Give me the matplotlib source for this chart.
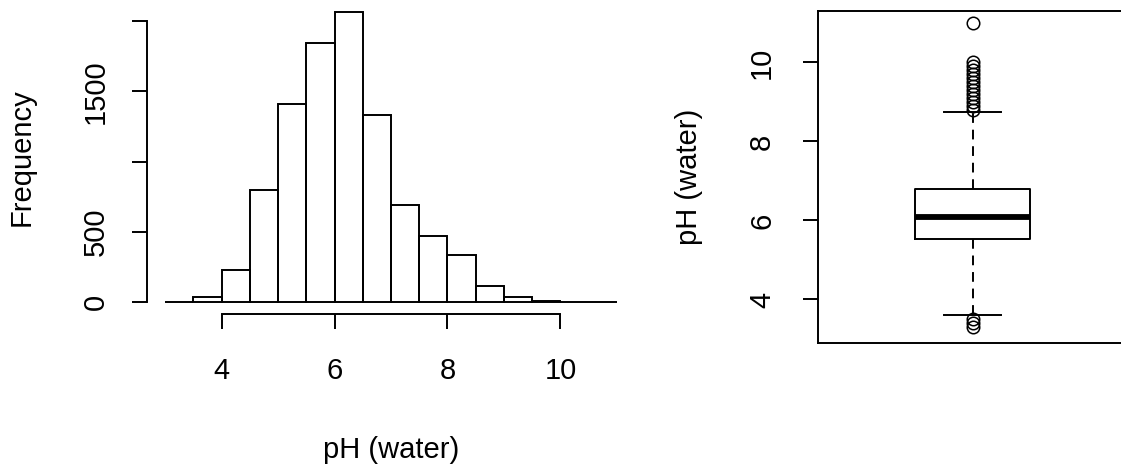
import matplotlib
matplotlib.use("Agg")
import matplotlib.pyplot as plt
import numpy as np

plt.rcParams['font.family'] = ['Liberation Sans', 'DejaVu Sans']

# histogram of pH (water), bins of 0.5 from 3 to 11
bin_edges = [3.0, 3.5, 4.0, 4.5, 5.0, 5.5, 6.0, 6.5, 7.0, 7.5, 8.0, 8.5, 9.0, 9.5, 10.0, 10.5, 11.0]
counts = [3, 40, 230, 797, 1413, 1847, 2063, 1335, 690, 472, 337, 119, 40, 12, 0, 1]
hist_xticks = [4, 6, 8, 10]
hist_yticks = [0, 500, 1000, 1500, 2000]
hist_ylabels = ['0', '500', '', '1500', '']

# boxplot summary of pH (water)
box_q1 = 5.52
box_med = 6.1
box_q3 = 6.8
box_whislo = 3.6
box_whishi = 8.75
fliers_low = [3.3, 3.4, 3.5]
fliers_high = [8.8, 8.9, 9.0, 9.1, 9.2, 9.3, 9.4, 9.5, 9.6, 9.7, 9.8, 9.9, 10.0, 11.0]
box_yticks = [4, 6, 8, 10]

W, H = 1121, 465
fig = plt.figure(figsize=(W / 100, H / 100), dpi=100)
fs = 21
lw = 1.4
tick_len = 11

# left panel: histogram
ax1 = fig.add_axes([147 / W, (H - 314) / H, 488 / W, 313.5 / H])
ax1.bar(bin_edges[:-1], counts, width=np.diff(bin_edges), align='edge',
        fill=False, edgecolor='black', linewidth=lw)
ax1.set_xlim(2.68, 11.32)
top = max(counts)
ax1.set_ylim(-0.04 * top, 1.04 * top)
for s in ['top', 'right']:
    ax1.spines[s].set_visible(False)
ax1.spines['left'].set_bounds(0, 2000)
ax1.spines['bottom'].set_bounds(4, 10)
for s in ['left', 'bottom']:
    ax1.spines[s].set_linewidth(lw)
ax1.set_xticks(hist_xticks)
ax1.set_xticklabels([str(t) for t in hist_xticks])
ax1.set_yticks(hist_yticks)
ax1.set_yticklabels(hist_ylabels)
ax1.tick_params(axis='x', length=tick_len, width=lw, labelsize=fs, pad=20)
ax1.tick_params(axis='y', length=tick_len, width=lw, labelsize=fs, pad=16, labelrotation=90)
for lab in ax1.get_yticklabels():
    lab.set_va('center')
ax1.set_xlabel('pH (water)', fontsize=fs)
ax1.xaxis.set_label_coords(0.5, -0.39)
ax1.set_ylabel('Frequency', fontsize=fs)
ax1.yaxis.set_label_coords(-0.228, 0.5)

# right panel: boxplot (frame runs past the right edge of the image)
ax2 = fig.add_axes([817.7 / W, (H - 343.3) / H, 310 / W, 332.6 / H])
stats = [dict(med=box_med, q1=box_q1, q3=box_q3, whislo=box_whislo,
              whishi=box_whishi, fliers=fliers_low + fliers_high)]
ax2.bxp(stats, positions=[1], widths=0.8, capwidths=0.4,
        boxprops=dict(color='black', linewidth=lw),
        whiskerprops=dict(color='black', linewidth=lw, linestyle=(0, (5, 3.5))),
        capprops=dict(color='black', linewidth=lw),
        medianprops=dict(color='black', linewidth=4.2, solid_capstyle='butt'),
        flierprops=dict(marker='o', markerfacecolor='none', markeredgecolor='black',
                        markersize=9, markeredgewidth=1.1))
ax2.set_xlim(-0.078, 2.078)
ax2.set_ylim(2.89, 11.31)
for s in ax2.spines.values():
    s.set_linewidth(lw)
ax2.spines['right'].set_visible(False)
ax2.set_xticks([])
ax2.set_yticks(box_yticks)
ax2.set_yticklabels([str(t) for t in box_yticks])
ax2.tick_params(axis='y', length=tick_len, width=lw, labelsize=fs, pad=19, labelrotation=90)
for lab in ax2.get_yticklabels():
    lab.set_va('center')
ax2.set_ylabel('pH (water)', fontsize=fs)
ax2.yaxis.set_label_coords(-0.37, 0.5)

fig.savefig('out.png', dpi=100)
